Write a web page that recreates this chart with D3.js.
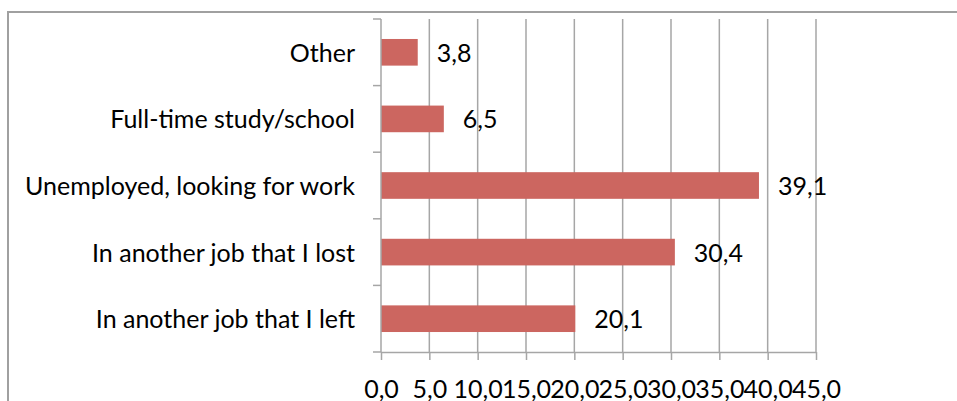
<!DOCTYPE html>
<html>
<head>
<meta charset="utf-8">
<script src="https://cdn.jsdelivr.net/npm/d3@7"></script>
<style>
  body { margin: 0; background: #fff; }
  text { font-family: Lato, "Open Sans", sans-serif; fill: #000; }
</style>
</head>
<body>
<div id="chart"></div>
<script>
// categories top to bottom, values in percent
const categories = [
  "Other",
  "Full-time study/school",
  "Unemployed, looking for work",
  "In another job that I lost",
  "In another job that I left",
];
const values = [3.8, 6.5, 39.1, 30.4, 20.1];
const xTicks = [0, 5, 10, 15, 20, 25, 30, 35, 40, 45];

const width = 957, height = 401;
const margin = { left: 381, top: 19, right: 141, bottom: 49 };
const innerW = width - margin.left - margin.right;
const innerH = height - margin.top - margin.bottom;
const fontSize = "25px";
const fmt = (v) => d3.format(".1f")(v).replace(".", ",");

const svg = d3.select("#chart").append("svg")
  .attr("width", width)
  .attr("height", height);

// outer chart border (cropped on right and bottom)
svg.append("rect")
  .attr("x", 8).attr("y", 12)
  .attr("width", 1000).attr("height", 500)
  .attr("fill", "none")
  .attr("stroke", "#a0a0a0")
  .attr("stroke-width", 2);

const g = svg.append("g").attr("transform", `translate(${margin.left},${margin.top})`);

const x = d3.scaleLinear().domain([0, 45]).range([0, innerW]);
const y = d3.scaleBand().domain(categories).range([0, innerH])
  .paddingInner(0.6).paddingOuter(0.3);

// grid lines
g.append("g").selectAll("line")
  .data(xTicks.slice(1))
  .join("line")
  .attr("x1", (d) => x(d)).attr("x2", (d) => x(d))
  .attr("y1", 0).attr("y2", innerH)
  .attr("stroke", "#a6a6a6")
  .attr("stroke-width", 1.5);

// bars
g.append("g").selectAll("rect")
  .data(categories)
  .join("rect")
  .attr("x", x(0))
  .attr("y", (d) => y(d))
  .attr("width", (d, i) => x(values[i]) - x(0))
  .attr("height", y.bandwidth())
  .attr("fill", "#cc6660");

// value labels
g.append("g").selectAll("text")
  .data(categories)
  .join("text")
  .attr("x", (d, i) => x(values[i]) + 19)
  .attr("y", (d) => y(d) + y.bandwidth() / 2)
  .attr("dy", "0.38em")
  .attr("font-size", fontSize)
  .text((d, i) => fmt(values[i]));

// x axis
const ax = g.append("g")
  .attr("transform", `translate(0,${innerH})`)
  .call(d3.axisBottom(x).tickValues(xTicks).tickFormat(fmt).tickSize(8).tickPadding(20));
ax.selectAll("line, path").attr("stroke", "#a6a6a6").attr("stroke-width", 1.5);
ax.select(".domain").attr("d", `M0,0.5H${innerW}`);
ax.selectAll("text").attr("font-size", fontSize).attr("fill", "#000")
  .attr("font-family", "Lato, sans-serif");

// y axis: ticks at band boundaries
const step = innerH / categories.length;
const yAxis = g.append("g");
yAxis.append("line")
  .attr("x1", 0).attr("x2", 0).attr("y1", 0).attr("y2", innerH)
  .attr("stroke", "#a6a6a6").attr("stroke-width", 1.5);
yAxis.selectAll(".tk")
  .data(d3.range(categories.length + 1))
  .join("line")
  .attr("class", "tk")
  .attr("x1", -8).attr("x2", 0)
  .attr("y1", (d) => d * step).attr("y2", (d) => d * step)
  .attr("stroke", "#a6a6a6").attr("stroke-width", 1.5);
yAxis.selectAll("text")
  .data(categories)
  .join("text")
  .attr("x", -26)
  .attr("y", (d) => y(d) + y.bandwidth() / 2)
  .attr("dy", "0.38em")
  .attr("text-anchor", "end")
  .attr("font-size", fontSize)
  .text((d) => d);
</script>
</body>
</html>
